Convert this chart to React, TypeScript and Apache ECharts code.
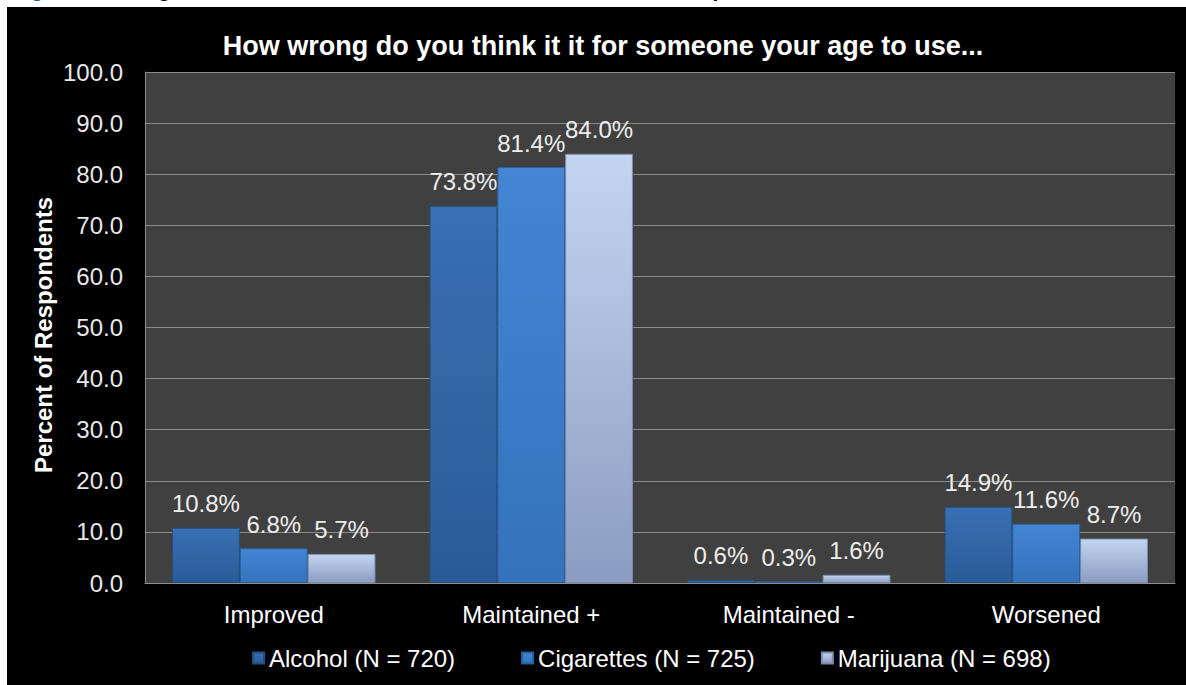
import React, { useEffect, useRef } from "react";
import * as echarts from "echarts";

const categories = ["Improved", "Maintained +", "Maintained -", "Worsened"];
const seriesNames = ["Alcohol (N = 720)", "Cigarettes (N = 725)", "Marijuana (N = 698)"];
const alcohol = [10.8, 73.8, 0.6, 14.9];
const cigarettes = [6.8, 81.4, 0.3, 11.6];
const marijuana = [5.7, 84.0, 1.6, 8.7];
const chartTitle = "How wrong do you think it it for someone your age to use...";
const yAxisName = "Percent of Respondents";
const headerLead = "Figure 5.";
const headerRest = " Changes in Attitudes Toward Substance Use in Youth Development";

const FONT = "'Liberation Sans', Arial, sans-serif";

export default function App() {
  const ref = useRef<HTMLDivElement>(null);
  useEffect(() => {
    document.body.style.margin = "0";
    const chart = echarts.init(ref.current!, null, { renderer: "svg" });
    const grad = (a: string, b: string) =>
      new echarts.graphic.LinearGradient(0, 0, 0, 1, [
        { offset: 0, color: a },
        { offset: 1, color: b },
      ]);
    const fills = [
      grad("#3870B4", "#2A5B98"),
      grad("#4485D4", "#3472BC"),
      grad("#C4D5F2", "#8B9CC2"),
    ];
    const borders = ["#22507F", "#2A609E", "#7C8CAE"];
    const datasets = [alcohol, cigarettes, marijuana];
    chart.setOption({
      animation: false,
      backgroundColor: "#ffffff",
      textStyle: { fontFamily: FONT },
      graphic: [
        {
          type: "text",
          left: 12,
          top: -21,
          silent: true,
          style: {
            text: `{a|${headerLead}}{b|${headerRest}}`,
            rich: {
              a: { fill: "#1F4E8C", font: `bold 21px ${FONT}` },
              b: { fill: "#000000", font: `bold 21px ${FONT}` },
            },
            font: `bold 21px ${FONT}`,
          },
          z: 0,
        },
        {
          type: "rect",
          shape: { x: 7, y: 7, width: 1179, height: 678 },
          style: { fill: "#000000" },
          z: -10,
          silent: true,
        },
        {
          type: "text",
          x: 603,
          y: 46,
          style: {
            text: chartTitle,
            fill: "#ffffff",
            font: `bold 27px ${FONT}`,
            align: "center",
            verticalAlign: "middle",
          },
          silent: true,
        },
        {
          type: "text",
          x: 43,
          y: 335,
          rotation: Math.PI / 2,
          style: {
            text: yAxisName,
            fill: "#ffffff",
            font: `bold 24px ${FONT}`,
            align: "center",
            verticalAlign: "middle",
          },
          silent: true,
        },
      ],
      grid: {
        left: 145,
        right: 11,
        top: 72,
        bottom: 102,
        show: true,
        backgroundColor: "#404040",
        borderWidth: 0,
      },
      legend: {
        data: seriesNames,
        bottom: 10,
        left: 247,
        itemWidth: 11,
        itemHeight: 11,
        itemGap: 66,
        icon: "rect",
        textStyle: { color: "#ffffff", fontSize: 24, fontFamily: FONT },
      },
      xAxis: {
        type: "category",
        data: categories,
        axisLine: { show: true, lineStyle: { color: "#8C8C8C", width: 1 } },
        axisTick: { show: false },
        axisLabel: { color: "#ffffff", fontSize: 24, margin: 19, fontFamily: FONT },
      },
      yAxis: {
        type: "value",
        min: 0,
        max: 100,
        interval: 10,
        axisLine: { show: true, lineStyle: { color: "#8C8C8C", width: 1 } },
        axisTick: { show: false },
        axisLabel: {
          color: "#E8E8E8",
          fontSize: 24,
          margin: 22,
          fontFamily: FONT,
          formatter: (v: number) => v.toFixed(1),
        },
        splitLine: { show: true, lineStyle: { color: "#8C8C8C", width: 1 } },
      },
      series: seriesNames.map((name, i) => ({
        name,
        type: "bar",
        data: datasets[i],
        barGap: "0%",
        barCategoryGap: "21%",
        itemStyle: { color: fills[i], borderColor: borders[i], borderWidth: 1 },
        label: {
          show: true,
          position: "top",
          distance: 12,
          color: "#EEEEEE",
          fontSize: 24,
          fontFamily: FONT,
          formatter: (p: any) => `${Number(p.value).toFixed(1)}%`,
        },
      })),
    });
    return () => chart.dispose();
  }, []);
  return <div ref={ref} style={{ width: 1186, height: 685 }} />;
}
